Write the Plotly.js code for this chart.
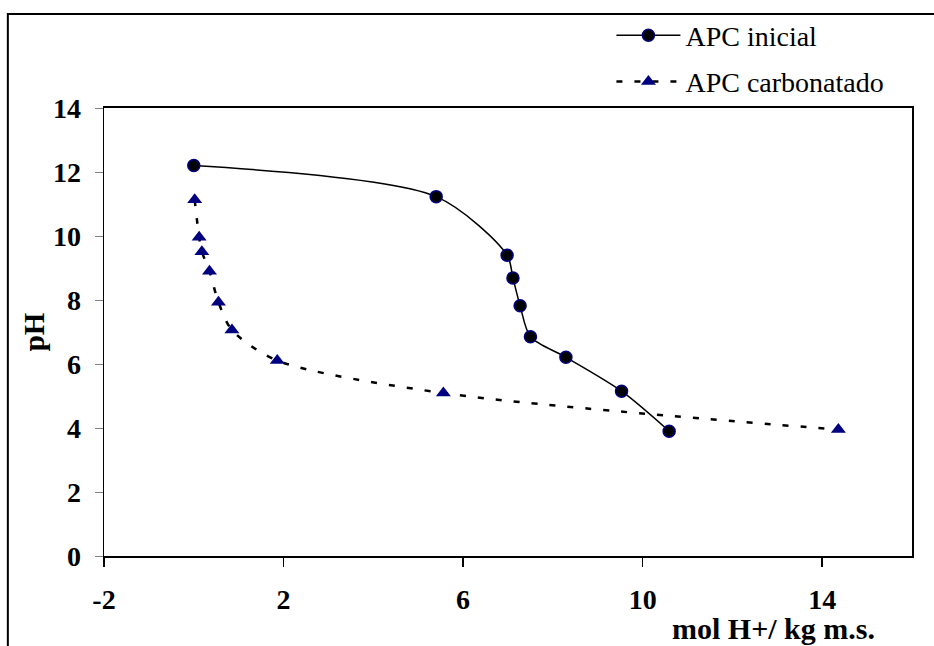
<!DOCTYPE html>
<html>
<head>
<meta charset="utf-8">
<script src="https://cdn.plot.ly/plotly-3.0.1.min.js"></script>
<style>html,body{margin:0;padding:0;background:#fff;}#chart{width:934px;height:646px;}</style>
</head>
<body>
<div id="chart"></div>
<script>
// APC inicial
const inicialX = [0.0, 5.40, 6.98, 7.11, 7.27, 7.50, 8.29, 9.53, 10.59];
const inicialY = [12.2, 11.23, 9.40, 8.69, 7.82, 6.85, 6.21, 5.15, 3.90];
// APC carbonatado
const carbX = [0.02, 0.12, 0.18, 0.35, 0.55, 0.85, 1.86, 5.56, 14.36];
const carbY = [11.13, 9.96, 9.51, 8.90, 7.93, 7.06, 6.11, 5.09, 3.95];

const xTicks = [-2, 2, 6, 10, 14];
const yTicks = [0, 2, 4, 6, 8, 10, 12, 14];

const serif = 'Liberation Serif, Times New Roman, serif';

const traces = [
  {
    x: inicialX, y: inicialY, name: 'APC inicial', type: 'scatter', mode: 'lines+markers',
    line: {color: '#000000', width: 1.5, shape: 'spline', smoothing: 0.8},
    marker: {symbol: 'circle', size: 12, color: '#000000', line: {color: '#000080', width: 1.5}},
    legendgroup: 'a'
  },
  {
    x: carbX, y: carbY, name: 'APC carbonatado', type: 'scatter', mode: 'lines+markers',
    line: {color: '#000000', width: 2.5, dash: '6px,12px', shape: 'spline', smoothing: 0.8},
    marker: {symbol: 'triangle-up', size: 13, color: '#000080', line: {color: '#000080', width: 0}},
    legendgroup: 'b'
  }
];

const layout = {
  width: 934, height: 646,
  margin: {l: 104, r: 22, t: 107, b: 90},
  paper_bgcolor: '#ffffff', plot_bgcolor: '#ffffff',
  showlegend: true,
  legend: {
    x: 0.628, y: 1.215, xanchor: 'left', yanchor: 'top',
    font: {family: serif, size: 28, color: '#000000'},
    bgcolor: 'rgba(0,0,0,0)', tracegroupgap: 7, itemwidth: 64
  },
  xaxis: {
    range: [-2, 16], tickmode: 'array', tickvals: xTicks, ticktext: xTicks.map(String),
    showgrid: false, zeroline: false,
    showline: true, linecolor: '#000000', linewidth: 2, mirror: true,
    ticks: 'outside', ticklen: 9, tickcolor: '#000000', tickwidth: 1.5,
    tickfont: {family: serif, size: 28, color: '#000000', weight: 'bold'},
    ticklabelstandoff: 8
  },
  yaxis: {
    range: [0, 14], tickmode: 'array', tickvals: yTicks, ticktext: yTicks.map(String),
    showgrid: false, zeroline: false,
    showline: true, linecolor: '#000000', linewidth: 1.5, mirror: true,
    ticks: 'outside', ticklen: 8, tickcolor: '#808080', tickwidth: 1,
    tickfont: {family: serif, size: 28, color: '#000000', weight: 'bold'},
    ticklabelstandoff: 8,
    title: {text: 'pH', font: {family: serif, size: 29, color: '#000000', weight: 'bold'}, standoff: 0}
  },
  annotations: [
    {
      text: 'mol H+/ kg m.s.', xref: 'paper', yref: 'paper', x: 0.957, y: -0.161,
      xanchor: 'right', yanchor: 'middle', showarrow: false,
      font: {family: serif, size: 30, color: '#000000', weight: 'bold'}
    }
  ],
  shapes: [
    {type: 'rect', xref: 'paper', yref: 'paper', x0: -0.119, x1: 1.05, y0: -0.3, y1: 1.21,
     line: {color: '#000000', width: 2}, fillcolor: 'rgba(0,0,0,0)', layer: 'below'}
  ]
};

Plotly.newPlot('chart', traces, layout, {staticPlot: true, displayModeBar: false});
</script>
</body>
</html>
